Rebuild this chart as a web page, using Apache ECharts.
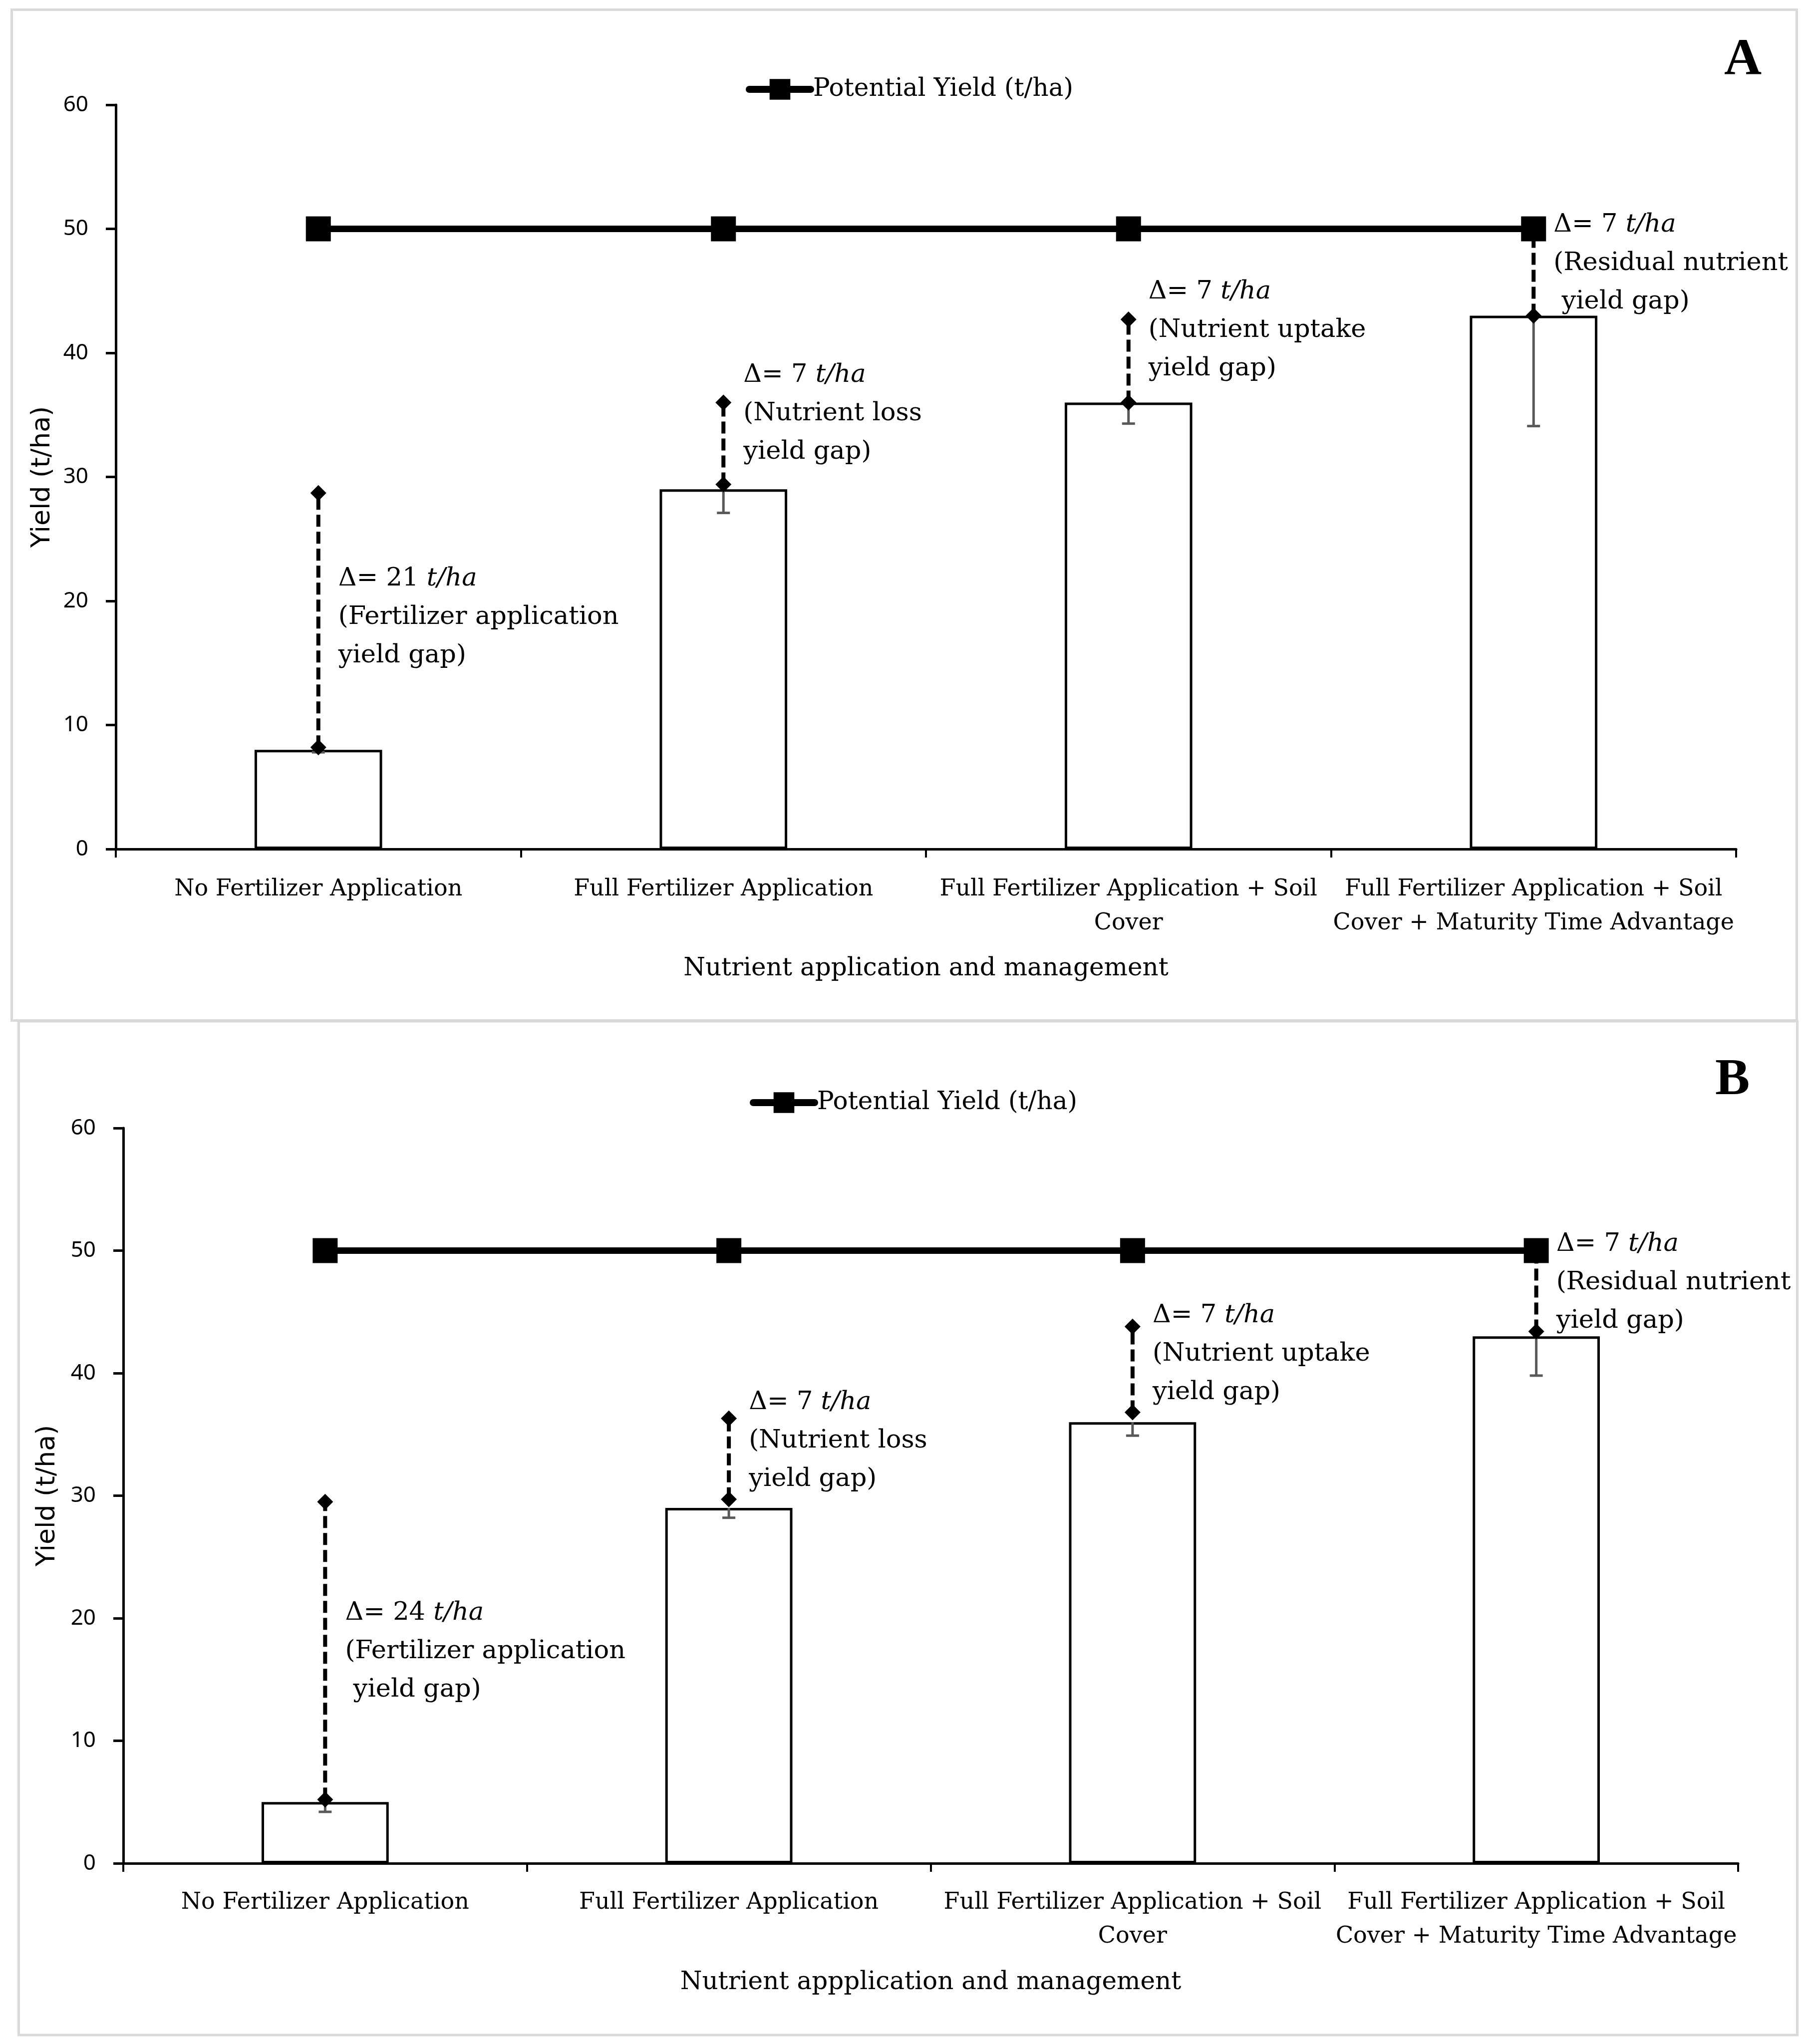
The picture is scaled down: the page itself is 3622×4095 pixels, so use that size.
<!DOCTYPE html>
<html>
<head>
<meta charset="utf-8">
<script src="https://cdn.jsdelivr.net/npm/echarts@6/dist/echarts.min.js"></script>
<style>html,body{margin:0;padding:0;background:#fff;}#chart{width:3622px;height:4095px;}</style>
</head>
<body>
<div id="chart"></div>
<script>
// ---------- data ----------
const categoryLabels = [
  'No Fertilizer Application',
  'Full Fertilizer Application',
  'Full Fertilizer Application + Soil\nCover',
  'Full Fertilizer Application + Soil\nCover + Maturity Time Advantage'
];
const yTicks = [0, 10, 20, 30, 40, 50, 60];
const gapNames = ['Fertilizer application', 'Nutrient loss', 'Nutrient uptake', 'Residual nutrient'];
const potentialName = 'Potential Yield (t/ha)';

// Panel A
const yieldA = [8, 29, 36, 43];
const errLowA = [7.8, 27.1, 34.3, 34.1];
const gapLowA = [8.2, 29.4, 36.0, 43.0];
const gapHighA = [28.7, 36.0, 42.7, 50];
const potentialA = [50, 50, 50, 50];
const deltaA = [21, 7, 7, 7];

// Panel B
const yieldB = [5, 29, 36, 43];
const errLowB = [4.2, 28.2, 34.9, 39.8];
const gapLowB = [5.2, 29.7, 36.8, 43.4];
const gapHighB = [29.5, 36.3, 43.8, 50];
const potentialB = [50, 50, 50, 50];
const deltaB = [24, 7, 7, 7];

// ---------- layout (annotation anchors in axis units, first text line) ----------
const annotAnchorA = [21.8, 38.2, 44.9, 50.3];
const annotAnchorB = [20.4, 37.6, 44.7, 50.5];
const annotIndentA = [false, false, false, true];
const annotIndentB = [true, false, false, false];

const SERIF = 'DejaVu Serif';
const SANS = 'Noto Sans';
const LH = 77;
const ANNOT_FS = 51;

function annotText(delta, name, indent) {
  return '{d|\u0394= ' + delta + ' }{i|t/ha}\n{d|(' + name + '}\n{d|' + (indent ? ' ' : '') + 'yield gap)}';
}

function errRender(lows) {
  return function (params, api) {
    const i = api.value(0);
    const top = api.coord([i, api.value(1)]);
    const bot = api.coord([i, lows[i]]);
    const st = {stroke: '#595959', lineWidth: 5};
    return {type: 'group', children: [
      {type: 'line', shape: {x1: top[0], y1: top[1], x2: bot[0], y2: bot[1]}, style: st},
      {type: 'line', shape: {x1: bot[0] - 13, y1: bot[1], x2: bot[0] + 13, y2: bot[1]}, style: st}
    ]};
  };
}

function diamond(p, s) {
  return {type: 'polygon', shape: {points: [[p[0], p[1] - s / 2], [p[0] + s / 2, p[1]], [p[0], p[1] + s / 2], [p[0] - s / 2, p[1]]]}, style: {fill: '#000'}};
}

function gapRender(params, api) {
  const i = api.value(0);
  const lo = api.coord([i, api.value(1)]);
  const hi = api.coord([i, api.value(2)]);
  return {type: 'group', children: [
    {type: 'line', shape: {x1: lo[0], y1: lo[1], x2: hi[0], y2: hi[1]}, style: {stroke: '#000', lineWidth: 8, lineDash: [24, 10]}},
    diamond(lo, 32),
    diamond(hi, 32)
  ]};
}

function annotRender(anchors, indents) {
  return function (params, api) {
    const i = api.value(0);
    const p = api.coord([i, anchors[i]]);
    return {
      type: 'text',
      style: {
        x: p[0] + 40, y: p[1] - LH / 2,
        text: annotText(api.value(1), gapNames[i], indents[i]),
        align: 'left', verticalAlign: 'top',
        fill: '#000',
        rich: {
          d: {fontFamily: SERIF, fontSize: ANNOT_FS, lineHeight: LH, fill: '#000'},
          i: {fontFamily: SERIF, fontSize: ANNOT_FS, lineHeight: LH, fontStyle: 'italic', fill: '#000'}
        }
      }
    };
  };
}

function xAxisDef(gi, name, nameGap, labelMargin) {
  return {
    type: 'category', gridIndex: gi, data: categoryLabels, boundaryGap: true,
    axisLine: {lineStyle: {color: '#000', width: 5}},
    axisTick: {show: true, length: 17, lineStyle: {color: '#000', width: 4}},
    axisLabel: {interval: 0, color: '#000', fontFamily: SERIF, fontSize: 46, lineHeight: 68, margin: labelMargin},
    name: name, nameLocation: 'middle', nameGap: nameGap,
    nameTextStyle: {color: '#000', fontFamily: SERIF, fontSize: 50}
  };
}

function yAxisDef(gi, nameGap) {
  return {
    type: 'value', gridIndex: gi, min: yTicks[0], max: yTicks[yTicks.length - 1], interval: yTicks[1] - yTicks[0],
    axisLine: {show: true, lineStyle: {color: '#000', width: 5}},
    axisTick: {show: true, length: 20, lineStyle: {color: '#000', width: 5}},
    splitLine: {show: false},
    axisLabel: {color: '#000', fontFamily: SANS, fontSize: 44, margin: 55},
    name: 'Yield (t/ha)', nameLocation: 'middle', nameGap: nameGap,
    nameTextStyle: {color: '#000', fontFamily: 'DejaVu Sans', fontSize: 52}
  };
}

function panelSeries(gi, yields, errLow, gapLow, gapHigh, potential, delta, anchors, indents) {
  const idx = yields.map((v, i) => i);
  return [
    {type: 'bar', name: 'Yield', xAxisIndex: gi, yAxisIndex: gi, data: yields, barWidth: '31.5%',
      itemStyle: {color: '#fff', borderColor: '#000', borderWidth: 5}, z: 2, silent: true},
    {type: 'custom', name: 'err' + gi, xAxisIndex: gi, yAxisIndex: gi, data: idx.map(i => [i, yields[i]]),
      renderItem: errRender(errLow), z: 3, silent: true},
    {type: 'custom', name: 'gap' + gi, xAxisIndex: gi, yAxisIndex: gi, data: idx.map(i => [i, gapLow[i], gapHigh[i]]),
      renderItem: gapRender, z: 4, silent: true},
    {type: 'line', name: potentialName, xAxisIndex: gi, yAxisIndex: gi, data: potential,
      symbol: 'rect', symbolSize: 50, lineStyle: {color: '#000', width: 13}, itemStyle: {color: '#000'}, z: 10, silent: true},
    {type: 'custom', name: 'annot' + gi, xAxisIndex: gi, yAxisIndex: gi, data: idx.map(i => [i, delta[i]]),
      renderItem: annotRender(anchors, indents), z: 12, silent: true}
  ];
}

const legendBase = {
  data: [potentialName], itemWidth: 123, itemHeight: 52, itemGap: 10, selectedMode: false,
  lineStyle: {width: 14, cap: 'round', color: '#000'},
  itemStyle: {color: '#000'},
  textStyle: {color: '#000', fontFamily: SERIF, fontSize: 50}
};

const chart = echarts.init(document.getElementById('chart'), null, {renderer: 'canvas'});
const option = {
  backgroundColor: '#fff',
  animation: false,
  grid: [
    {left: 232, right: 144, top: 210, bottom: 2394},
    {left: 247, right: 140, top: 2260, bottom: 362}
  ],
  legend: [
    Object.assign({}, legendBase, {left: 1489, top: 149}),
    Object.assign({}, legendBase, {left: 1497, top: 2179})
  ],
  xAxis: [
    xAxisDef(0, 'Nutrient application and management', 215, 47),
    xAxisDef(1, 'Nutrient appplication and management', 214, 45)
  ],
  yAxis: [yAxisDef(0, 121), yAxisDef(1, 126)],
  series: [].concat(
    panelSeries(0, yieldA, errLowA, gapLowA, gapHighA, potentialA, deltaA, annotAnchorA, annotIndentA),
    panelSeries(1, yieldB, errLowB, gapLowB, gapHighB, potentialB, deltaB, annotAnchorB, annotIndentB)
  ),
  graphic: [
    {type: 'rect', shape: {x: 23.5, y: 19.5, width: 3576, height: 2025}, style: {fill: 'none', stroke: '#d9d9d9', lineWidth: 5}, silent: true, z: -10},
    {type: 'rect', shape: {x: 37.5, y: 2046, width: 3563, height: 2031}, style: {fill: 'none', stroke: '#d9d9d9', lineWidth: 5}, silent: true, z: -10},
    {type: 'text', left: 3454, top: 70, style: {text: 'A', fontFamily: 'Liberation Serif', fontWeight: 'bold', fontSize: 104, fill: '#000'}},
    {type: 'text', left: 3436, top: 2113, style: {text: 'B', fontFamily: 'Liberation Serif', fontWeight: 'bold', fontSize: 104, fill: '#000'}}
  ]
};
chart.setOption(option);
</script>
</body>
</html>
